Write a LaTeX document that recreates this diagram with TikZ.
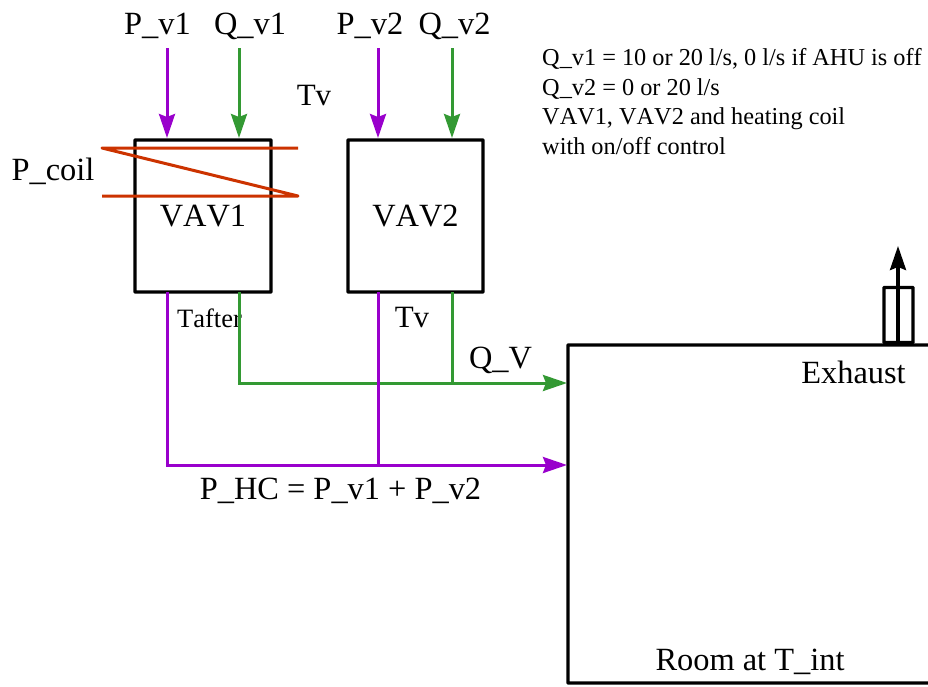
\documentclass[tikz,border=0pt]{standalone}
\usepackage{fontspec}
\setmainfont[Kerning=Off]{Liberation Serif}
\usetikzlibrary{arrows.meta}
\definecolor{cpurple}{RGB}{153,0,204}
\definecolor{cgreen}{RGB}{51,153,51}
\definecolor{corange}{RGB}{204,51,0}
\tikzset{
  box/.style={draw=black,line width=3.3pt,rounded corners=0.5pt,inner sep=0pt,outer sep=0pt,anchor=north west,font=\fontsize{32.4}{32}\selectfont},
  lbl/.style={inner sep=0pt,anchor=base,font=\fontsize{32.4}{32}\selectfont},
  note/.style={inner sep=0pt,anchor=base west,font=\fontsize{24.3}{25}\selectfont},
  tip/.style={-{Stealth[length=24pt,width=16pt,inset=3pt]}},
  flowp/.style={draw=cpurple,line width=3pt},
  flowq/.style={draw=cgreen,line width=3pt},
  coil/.style={draw=corange,line width=3pt,line join=round},
}
\begin{document}
\begin{tikzpicture}[x=1pt,y=-1pt]
\useasboundingbox (0,0) rectangle (928,686);
% room and boxes
\node[box,minimum width=400pt,minimum height=338pt] (room) at (568,345) {};
\node[box,minimum width=136pt,minimum height=152pt] (vav1) at (135,140) {VAV1};
\node[box,minimum width=135pt,minimum height=152pt] (vav2) at (348,140) {VAV2};
\node[box,minimum width=29pt,minimum height=55pt] (exh) at (884,287.5) {};
% top labels
\node[lbl] (pv1) at (157.5,34.5) {P\_v1};
\node[lbl] (qv1) at (250,34.5) {Q\_v1};
\node[lbl] (pv2) at (370,34.5) {P\_v2};
\node[lbl] (qv2) at (454.5,34.5) {Q\_v2};
\node[lbl,font=\fontsize{31}{31}\selectfont] (tv1) at (314,105.5) {Tv};
\node[lbl] (pcoil) at (53,180.5) {P\_coil};
\node[lbl,font=\fontsize{31}{31}\selectfont] (tv2) at (412,327.5) {Tv};
\node[lbl,font=\fontsize{26.5}{27}\selectfont] (tafter) at (209.5,327.5) {Tafter};
\node[lbl] (qv) at (500.5,368.5) {Q\_V};
\node[lbl] (phc) at (340.5,499.5) {P\_HC = P\_v1 + P\_v2};
\node[lbl] (exhaust) at (853.5,383.5) {Exhaust};
\node[lbl] (rlabel) at (750,670.5) {Room at T\_int};
\node[note] (n1) at (542,65) {Q\_v1 = 10 or 20 l/s, 0 l/s if AHU is off};
\node[note] (n2) at (542,95) {Q\_v2 = 0 or 20 l/s};
\node[note] (n3) at (542,124) {VAV1, VAV2 and heating coil};
\node[note] (n4) at (542,154) {with on/off control};
% named connector ends
\coordinate (a1) at (167,48);
\coordinate (a2) at (239,48);
\coordinate (a3) at (378,48);
\coordinate (a4) at (452,48);
\coordinate (qin) at (567,383);
\coordinate (pin) at (567,465);
\coordinate (ex0) at (898,344);
\coordinate (ex1) at (898,246);
% inputs
\draw[flowp,tip] (a1) -- (167,138);
\draw[flowq,tip] (a2) -- (239,138);
\draw[flowp,tip] (a3) -- (378,138);
\draw[flowq,tip] (a4) -- (452,138);
% outputs
\draw[flowq,tip] (239,292) -- (239,383) -- (qin);
\draw[flowq] (452,292) -- (452,383);
\draw[flowp,tip] (167,292) -- (167,465) -- (pin);
\draw[flowp] (378,292) -- (378,465);
% coil
\draw[coil] (298,148) -- (102,148) -- (298,196) -- (102,196);
% exhaust arrow
\draw[line width=3.3pt,-{Stealth[length=24pt,width=16pt,inset=3pt]}] (ex0) -- (ex1);
\end{tikzpicture}
\end{document}
